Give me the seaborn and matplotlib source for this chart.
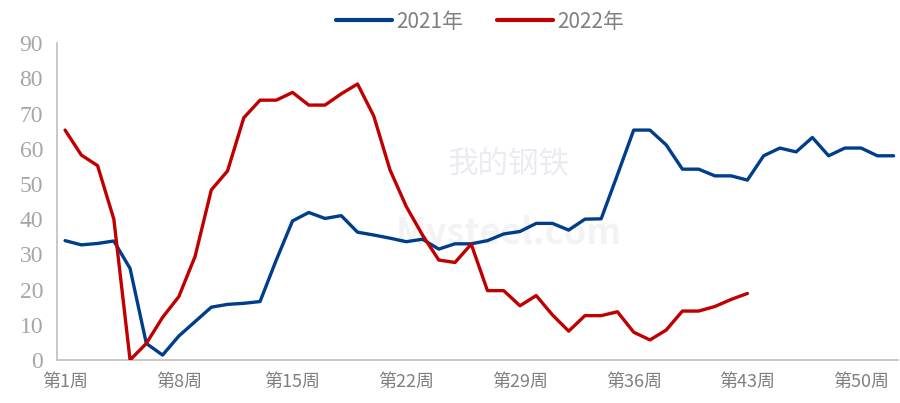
import matplotlib
matplotlib.use("Agg")
import matplotlib.pyplot as plt
import numpy as np
import pandas as pd
import seaborn as sns

sns.set_style("white")
plt.rcParams["font.family"] = ["Noto Sans CJK SC", "DejaVu Sans"]

WEEKS = list(range(1, 53))
Y2021 = [33.9, 32.7, 33.1, 33.8, 26.0, 4.7, 1.4, 6.8, 10.9, 15.0,
         15.8, 16.1, 16.6, 28.4, 39.5, 41.9, 40.2, 41.0, 36.3, 35.5,
         34.6, 33.6, 34.3, 31.5, 33.0, 33.0, 33.9, 35.8, 36.5, 38.8,
         38.8, 36.9, 40.0, 40.1, 52.6, 65.3, 65.3, 61.1, 54.2, 54.2,
         52.3, 52.3, 51.1, 58.0, 60.2, 59.1, 63.2, 58.0, 60.2, 60.2,
         58.0, 58.0]
Y2022 = [65.3, 58.2, 55.2, 40.0, 0.0, 4.7, 12.1, 18.0, 29.4, 48.3,
         53.7, 68.8, 73.8, 73.8, 76.0, 72.4, 72.4, 75.6, 78.4, 69.3,
         54.0, 43.6, 35.5, 28.4, 27.7, 32.9, 19.7, 19.7, 15.4, 18.3,
         12.8, 8.2, 12.6, 12.6, 13.7, 7.9, 5.7, 8.5, 13.9, 13.9,
         15.2, 17.2, 18.9]
SERIES = ["2021年", "2022年"]
COLORS = {"2021年": "#003E8C", "2022年": "#C00000"}
TICK_WEEKS = [1, 8, 15, 22, 29, 36, 43, 50]
NARROW = ["Liberation Sans Narrow", "Noto Sans CJK SC", "DejaVu Sans"]

df = pd.concat([
    pd.DataFrame({"week": WEEKS, "value": Y2021, "year": SERIES[0]}),
    pd.DataFrame({"week": WEEKS[:len(Y2022)], "value": Y2022, "year": SERIES[1]}),
])

fig = plt.figure(figsize=(9, 4.03), dpi=100)
ax = fig.add_axes([0.0633, 0.1067, 0.935, 0.7863])

# faint watermark
ax.text(0.537, 0.62, "我的钢铁", transform=ax.transAxes, ha="center", va="center",
        fontsize=22, color="#EAECF2", zorder=0)
ax.text(0.537, 0.40, "Mysteel.com", transform=ax.transAxes, ha="center", va="center",
        fontsize=26, color="#F3F3F3", fontweight="bold", zorder=0)

sns.lineplot(data=df, x="week", y="value", hue="year", palette=COLORS,
             linewidth=2.4, ax=ax, legend=True, zorder=3)

ax.set_xlim(0.5, 52.3)
ax.set_ylim(0, 90)
ax.set_yticks(range(0, 91, 10))
ax.set_yticklabels([str(v) for v in range(0, 91, 10)], family="Liberation Serif",
                   fontsize=17, color="#A6A6A6")
ax.set_xticks([w - 0.5 for w in TICK_WEEKS])
ax.set_xticklabels([])
ax.set_xticks(TICK_WEEKS, minor=True)
ax.set_xticklabels([f"第{w}周" for w in TICK_WEEKS], minor=True, fontsize=13,
                   color="#808080", family=NARROW)
ax.tick_params(axis="x", which="major", length=5, width=1, color="#BFBFBF", direction="out")
ax.tick_params(axis="x", which="minor", length=0, pad=9)
ax.tick_params(axis="y", length=4, width=1, color="#BFBFBF", direction="out", pad=6)
ax.set_xlabel("")
ax.set_ylabel("")
for side in ["top", "right"]:
    ax.spines[side].set_visible(False)
for side in ["left", "bottom"]:
    ax.spines[side].set_color("#BFBFBF")
    ax.spines[side].set_linewidth(1.2)

leg = ax.legend(loc="lower center", bbox_to_anchor=(0.503, 1.0), ncol=2, frameon=False,
                prop={"family": NARROW, "size": 15}, handlelength=2.7,
                columnspacing=1.6, handletextpad=0.2, borderaxespad=0.1)
for t in leg.get_texts():
    t.set_color("#808080")
for h in leg.get_lines():
    h.set_linewidth(3)

fig.savefig("out.png", dpi=100)
